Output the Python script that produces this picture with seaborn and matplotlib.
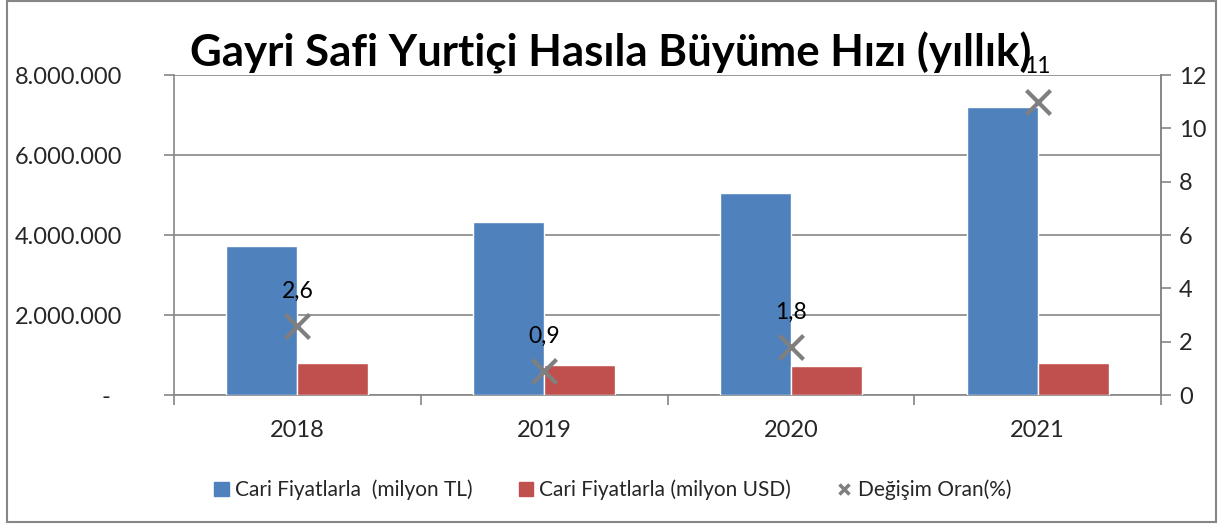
import pandas as pd
import matplotlib.pyplot as plt
import seaborn as sns
from matplotlib.patches import Rectangle
from matplotlib.lines import Line2D

# chart data
years = ["2018", "2019", "2020", "2021"]
gdp_tl = [3724388, 4317810, 5048567, 7209040]     # cari fiyatlarla, milyon TL
gdp_usd = [797000, 761000, 717000, 807000]        # cari fiyatlarla, milyon USD
growth = [2.6, 0.9, 1.8, 11]                      # degisim orani (%)
growth_labels = ["2,6", "0,9", "1,8", "11"]
series_names = ["Cari Fiyatlarla  (milyon TL)", "Cari Fiyatlarla (milyon USD)"]
left_ticks = [0, 2000000, 4000000, 6000000, 8000000]
right_ticks = [0, 2, 4, 6, 8, 10, 12]

# long table for seaborn
df = pd.DataFrame({
    "Yil": years * 2,
    "Seri": [series_names[0]] * 4 + [series_names[1]] * 4,
    "Deger": gdp_tl + gdp_usd,
})

sns.set_theme(style="white")
plt.rcParams["font.family"] = ["Lato", "DejaVu Sans"]

grey = "#868686"
fig = plt.figure(figsize=(12.21, 5.26), dpi=100)
ax = fig.add_axes([174 / 1221, 1 - 395 / 526, (1161 - 174) / 1221, 320 / 526])

sns.barplot(data=df, x="Yil", y="Deger", hue="Seri", order=years, hue_order=series_names,
            palette=["#4F81BD", "#C0504D"], width=0.575, saturation=1, ax=ax, legend=False, zorder=3)
ax.set_xlim(-0.5, 3.5)
ax.set_ylim(0, 8000000)
ax.set_yticks(left_ticks)
# accounting style: zero shown as a dash, set in from the right edge
ax.set_yticklabels(["-\u00a0\u00a0"] + [f"{v:,}".replace(",", ".") for v in left_ticks[1:]])
ax.grid(axis="y", color=grey, linewidth=1.2, zorder=0)
ax.set_axisbelow(True)
ax.set_xlabel("")
ax.set_ylabel("")

# category ticks at boundaries, labels in between
ax.set_xticks([-0.5, 0.5, 1.5, 2.5, 3.5])
ax.set_xticklabels([])
ax.set_xticks(range(len(years)), minor=True)
ax.set_xticklabels(years, minor=True)
ax.tick_params(axis="x", which="major", length=7, width=1.2, color=grey, direction="out", bottom=True)
ax.tick_params(axis="x", which="minor", length=0, labelsize=17, pad=18)
ax.tick_params(axis="y", length=7, width=1.2, color=grey, direction="out", left=True, labelsize=17, pad=30)

for side in ["left", "bottom", "right"]:
    ax.spines[side].set_color(grey)
    ax.spines[side].set_linewidth(1.2)
ax.spines["top"].set_visible(False)

# growth rate on secondary axis
ax2 = ax.twinx()
gdf = pd.DataFrame({"x": range(len(years)), "y": growth})
sns.scatterplot(data=gdf, x="x", y="y", marker="x", s=300, color="#7F7F7F", linewidth=3, ax=ax2, zorder=4)
ax2.set_ylim(0, 12)
ax2.set_yticks(right_ticks)
ax2.set_ylabel("")
ax2.set_xlabel("")
ax2.tick_params(axis="y", length=7, width=1.2, color=grey, direction="out", right=True, labelsize=17, pad=6)
for side in ["left", "bottom", "right", "top"]:
    ax2.spines[side].set_visible(False)
ax2.spines["right"].set_visible(True)
ax2.spines["right"].set_color(grey)
ax2.spines["right"].set_linewidth(1.2)

for i, (val, lab) in enumerate(zip(growth, growth_labels)):
    ax2.annotate(lab, (i, val), xytext=(0, 25), textcoords="offset points",
                 ha="center", va="center", fontsize=16.5, color="black")

fig.suptitle("Gayri Safi Yurtiçi Hasıla Büyüme Hızı (yıllık)", x=0.5, y=1 - 53 / 526,
             va="center", ha="center", fontsize=31.5, fontweight="bold", color="black")

# legend
handles = [
    Rectangle((0, 0), 1, 1, color="#4F81BD"),
    Rectangle((0, 0), 1, 1, color="#C0504D"),
    Line2D([], [], marker="x", linestyle="none", color="#7F7F7F", markersize=7, markeredgewidth=2.5),
]
fig.legend(handles, series_names + ["Değişim Oran(%)"], loc="center", bbox_to_anchor=(0.502, 1 - 490 / 526),
           ncol=3, frameon=False, fontsize=15, handlelength=0.7, handleheight=0.7,
           handletextpad=0.3, columnspacing=2.2)

# outer frame
fig.patches.append(Rectangle((7 / 1221, 4 / 526), 1209 / 1221, 521 / 526, transform=fig.transFigure,
                             fill=False, edgecolor=grey, linewidth=1.5))

fig.savefig("out.png", dpi=100)
